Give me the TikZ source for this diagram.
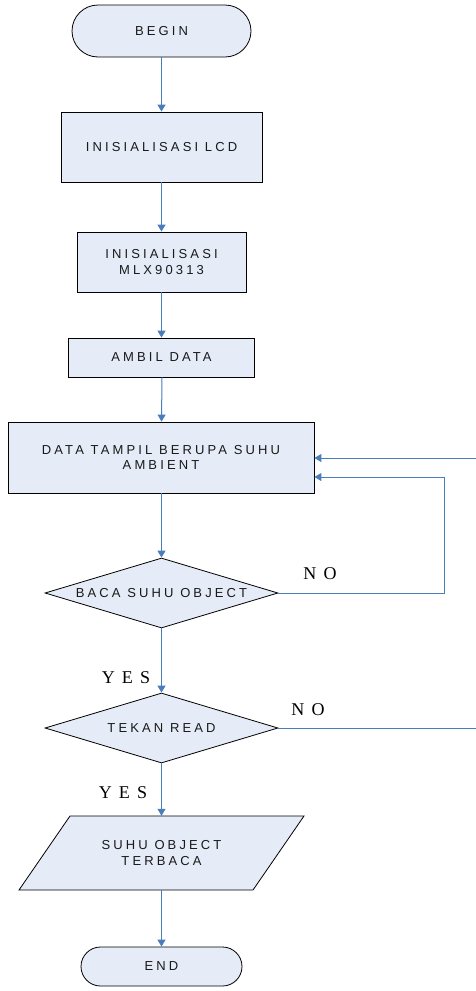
\documentclass[tikz,border=0pt]{standalone}
\usepackage{fontspec}
\usetikzlibrary{arrows.meta,shapes.geometric}
\newfontfamily\boxfont[LetterSpace=24]{Liberation Sans}
\newfontfamily\lblfont[LetterSpace=40]{Liberation Serif}
\definecolor{boxfill}{RGB}{230,236,247}
\definecolor{flowblue}{RGB}{74,126,187}
\tikzset{
  base/.style={draw=black, line width=0.8pt, fill=boxfill, inner sep=0pt,
    font=\boxfont\fontsize{13}{15.5}\selectfont, align=center, text=black!90},
  procbox/.style={base, rectangle},
  termbox/.style={base, rectangle},
  decbox/.style={base, diamond, minimum width=233pt, minimum height=70pt},
  boxtext/.style={inner sep=0pt, font=\boxfont\fontsize{13}{15.5}\selectfont, align=center, text=black!90},
  flow/.style={draw=flowblue, line width=1pt, -{Triangle[width=8pt,length=7pt]}},
  flowline/.style={draw=flowblue, line width=1pt},
  yesno/.style={inner sep=0pt, font=\lblfont\fontsize{18}{20}\selectfont, text=black}
}
\begin{document}
\begin{tikzpicture}[x=1pt,y=-1pt]
\useasboundingbox (0,0) rectangle (476,991);
% terminals
\node[termbox, rounded corners=26pt, minimum width=179pt, minimum height=52pt] (begin) at (161.5,31) {BEGIN};
\node[procbox, minimum width=201pt, minimum height=70pt] (lcd) at (161.5,147) {INISIALISASI LCD};
\node[procbox, minimum width=169pt, minimum height=60pt] (mlx) at (161.5,262) {INISIALISASI\\MLX90313};
\node[procbox, minimum width=186pt, minimum height=39pt] (ambil) at (161.5,357.5) {AMBIL DATA};
\node[procbox, minimum width=306pt, minimum height=71pt] (data) at (161,457.5) {DATA TAMPIL BERUPA SUHU\\AMBIENT};
\node[decbox] (d1) at (161.5,593) {};
\node[boxtext] (d1t) at (d1) {BACA SUHU OBJECT};
\node[decbox] (d2) at (161.5,728) {};
\node[boxtext] (d2t) at (d2) {TEKAN READ};
\path[draw=black, line width=0.8pt, fill=boxfill] (70,816) -- (304,816) -- (253,890) -- (19,890) -- cycle;
\node[boxtext, minimum width=234pt, minimum height=74pt] (para) at (161.5,853) {SUHU OBJECT\\TERBACA};
\node[termbox, rounded corners=19.5pt, minimum width=161pt, minimum height=39pt] (end) at (161.5,966.5) {END};
% coordinates for loops
\coordinate (c1) at (444,477);
\coordinate (c2) at (476,728);
\coordinate (c3) at (476,458);
% connectors
\draw[flow] (begin.south) -- (lcd.north);
\draw[flow] (lcd.south) -- (mlx.north);
\draw[flow] (mlx.south) -- (ambil.north);
\draw[flow] ([xshift=0.5pt]ambil.south) -- ([xshift=0.5pt]data.north);
\draw[flow] ([xshift=0.5pt]data.south) -- (d1.north);
\draw[flow] (d1.south) -- (d2.north);
\draw[flow] (d2.south) -- (para.north);
\draw[flow] (para.south) -- (end.north);
\draw[flow] (d1.east) -| (c1) -- (c1 -| data.east);
\draw[flowline] (d2.east) -- (c2);
\draw[flow] (c3) -- (c3 -| data.east);
% labels
\node[yesno] (no1) at (320,574) {NO};
\node[yesno] (no2) at (308,710) {NO};
\node[yesno] (yes1) at (126,678) {YES};
\node[yesno] (yes2) at (123,793) {YES};
\end{tikzpicture}
\end{document}
